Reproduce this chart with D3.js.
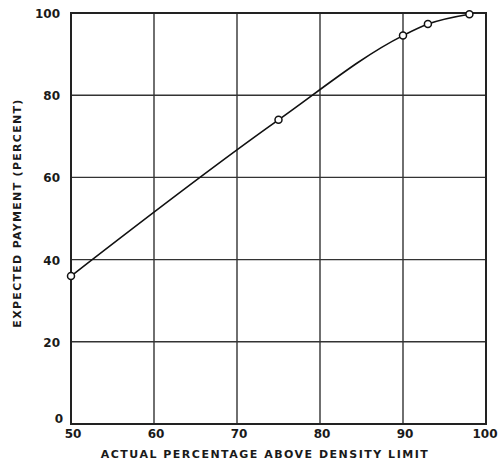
<!DOCTYPE html>
<html>
<head>
<meta charset="utf-8">
<script src="https://cdn.jsdelivr.net/npm/d3@7"></script>
<style>
  body { margin: 0; background: #fff; }
  text { font-family: "DejaVu Sans", sans-serif; font-weight: bold; fill: #1a1a1a; }
</style>
</head>
<body>
<svg id="chart"></svg>
<script>
// curve data
var xValues = [50, 75, 90, 93, 98];
var yValues = [36, 74, 94.5, 97.3, 99.7];
var xTicks = [50, 60, 70, 80, 90, 100];
var yTicks = [0, 20, 40, 60, 80, 100];
var xTitle = "ACTUAL PERCENTAGE ABOVE DENSITY LIMIT";
var yTitle = "EXPECTED PAYMENT (PERCENT)";

var width = 499, height = 466;
var margin = {top: 13, right: 13, bottom: 42, left: 71};

var svg = d3.select("#chart")
  .attr("width", width)
  .attr("height", height);

var x = d3.scaleLinear().domain([50, 100]).range([margin.left, width - margin.right]);
var y = d3.scaleLinear().domain([0, 100]).range([height - margin.bottom, margin.top]);

// grid
svg.append("g")
  .selectAll("line")
  .data(xTicks)
  .enter()
  .append("line")
  .attr("x1", d => x(d)).attr("x2", d => x(d))
  .attr("y1", y(0)).attr("y2", y(100))
  .attr("stroke", "#333")
  .attr("stroke-width", 1.4);

svg.append("g")
  .selectAll("line")
  .data(yTicks)
  .enter()
  .append("line")
  .attr("x1", x(50)).attr("x2", x(100))
  .attr("y1", d => y(d)).attr("y2", d => y(d))
  .attr("stroke", "#333")
  .attr("stroke-width", 1.4);

// frame
svg.append("rect")
  .attr("x", x(50)).attr("y", y(100))
  .attr("width", x(100) - x(50)).attr("height", y(0) - y(100))
  .attr("fill", "none")
  .attr("stroke", "#222")
  .attr("stroke-width", 2);

// tick labels
svg.append("g")
  .selectAll("text")
  .data(xTicks)
  .enter()
  .append("text")
  .attr("x", d => d === 100 ? x(d) - 1 : x(d) + 2)
  .attr("y", y(0) + 14)
  .attr("text-anchor", "middle")
  .attr("font-size", 12)
  .text(d => d);

svg.append("g")
  .selectAll("text")
  .data(yTicks)
  .enter()
  .append("text")
  .attr("x", d => d === 0 ? x(50) - 8 : x(50) - 11)
  .attr("y", d => d === 0 ? y(d) - 1 : y(d) + 5)
  .attr("text-anchor", "end")
  .attr("font-size", 12)
  .text(d => d);

// axis titles
svg.append("text")
  .attr("x", 265)
  .attr("y", 458)
  .attr("text-anchor", "middle")
  .attr("font-size", 11)
  .attr("letter-spacing", 1.5)
  .text(xTitle);

svg.append("text")
  .attr("transform", "translate(21," + 213 + ") rotate(-90)")
  .attr("text-anchor", "middle")
  .attr("font-size", 11)
  .attr("letter-spacing", 1.3)
  .text(yTitle);

// curve
var pts = xValues.map((d, i) => [d, yValues[i]]);

var line = d3.line()
  .x(d => x(d[0]))
  .y(d => y(d[1]))
  .curve(d3.curveMonotoneX);

svg.append("path")
  .datum(pts)
  .attr("d", line)
  .attr("fill", "none")
  .attr("stroke", "#111")
  .attr("stroke-width", 1.6);

svg.append("g")
  .selectAll("circle")
  .data(pts)
  .enter()
  .append("circle")
  .attr("cx", d => x(d[0]))
  .attr("cy", d => y(d[1]))
  .attr("r", 3.5)
  .attr("fill", "#fff")
  .attr("stroke", "#111")
  .attr("stroke-width", 1.5);
</script>
</body>
</html>
